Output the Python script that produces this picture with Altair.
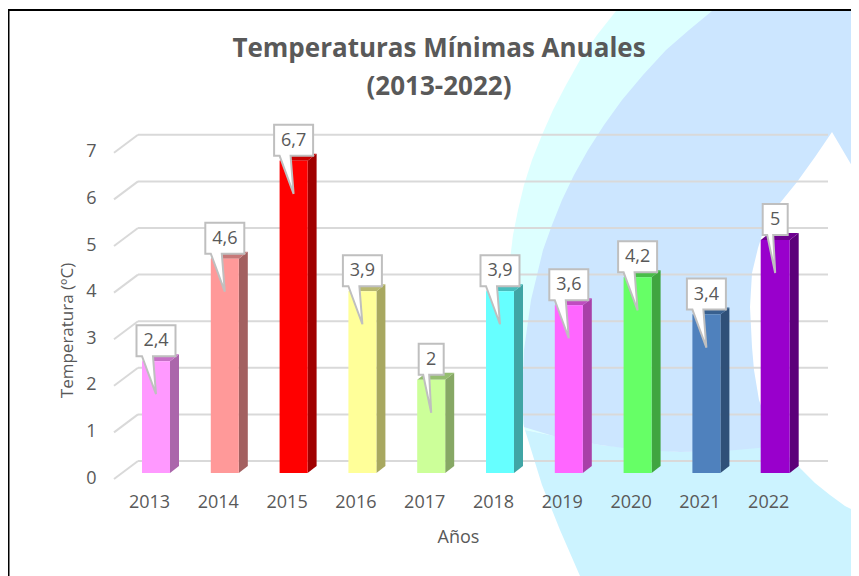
import altair as alt
import pandas as pd

# ---------- data ----------
years = [2013, 2014, 2015, 2016, 2017, 2018, 2019, 2020, 2021, 2022]
values = [2.4, 4.6, 6.7, 3.9, 2.0, 3.9, 3.6, 4.2, 3.4, 5.0]
value_labels = ["2,4", "4,6", "6,7", "3,9", "2", "3,9", "3,6", "4,2", "3,4", "5"]
front_colors = ["#FF99FF", "#FF9999", "#FF0000", "#FFFF99", "#CCFF99",
                "#66FFFF", "#FF66FF", "#66FF66", "#4F81BD", "#9900CC"]
top_colors = ["#C670C6", "#C67878", "#C80000", "#B8B870", "#95BD70",
              "#48BDBD", "#C04CC0", "#48BD48", "#38608F", "#6E0090"]
side_colors = ["#AB66AB", "#A36060", "#A00000", "#A8A860", "#87A865",
               "#40A5A5", "#A840A8", "#40A540", "#2F5078", "#5C007A"]
ticks_y = [0, 1, 2, 3, 4, 5, 6, 7]

# decorative background outlines, picture coordinates
ring_outline = [(616, 11), (597, 35), (580, 60), (566, 85), (553, 110), (542, 135), (532, 160), (524, 185),
                (518, 210), (513, 235), (510, 260), (506, 300), (505, 340), (511, 385), (525, 430),
                (600, 445), (859, 445), (859, 11)]
lower_outline = [(525, 430), (542, 485), (560, 530), (580, 576), (859, 576), (859, 440),
                 (770, 447), (680, 452), (600, 445)]
blue_outline = [(712, 11), (689, 30), (666, 50), (643, 75), (622, 100), (604, 125), (588, 150), (574, 175),
                (562, 200), (552, 225), (543, 250), (537, 275), (531, 300), (524, 350), (522, 400), (524, 427),
                (560, 438), (600, 445), (640, 450), (680, 452), (725, 451), (770, 447), (859, 440), (859, 11)]
white_outline = [(832, 132), (859, 178), (859, 513), (845, 506), (830, 495), (815, 483), (802, 470), (790, 458),
                 (780, 447), (768, 425), (759, 400), (754, 370), (752, 347), (750, 307), (752, 273), (758, 248),
                 (766, 223), (780, 203), (797, 182), (815, 157)]

# ---------- layout constants ----------
W, H = 843, 568
UNIT_X, UNIT_Y = 68.8, 46.6
X0, Y0 = 156, 473
FONT = "Open Sans"
TXT = "#595959"
GRID = "#D9D9D9"


def year_of(px):
    return 2013 + (px - X0) / UNIT_X


def temp_of(py):
    return (Y0 - py) / UNIT_Y


x_scale = alt.Scale(domain=[year_of(8), year_of(8 + W)], range=[0, W], nice=False, zero=False)
y_scale = alt.Scale(domain=[temp_of(8 + H), temp_of(8)], range=[H, 0], nice=False, zero=False)
x_axis = alt.Axis(values=years, format="d", domain=False, ticks=False, grid=False, title="Años",
                  offset=-(H + 8 - 490), labelOffset=-7, labelPadding=3, labelFont=FONT, labelFontSize=18,
                  labelColor=TXT, labelFlush=False, labelOverlap=False,
                  titleFont=FONT, titleFontSize=18, titleColor=TXT, titleFontWeight="normal",
                  titleX=450, titleY=47, titleBaseline="middle", zindex=1)
y_axis = alt.Axis(values=ticks_y, format="d", domain=False, ticks=False, grid=False, title="Temperatura (ºC)",
                  offset=-88, labelOffset=5, labelPadding=0, labelFont=FONT, labelFontSize=18,
                  labelColor=TXT, labelFlush=False, labelOverlap=False,
                  titleFont=FONT, titleFontSize=17, titleColor=TXT, titleFontWeight="normal",
                  titleX=-29, titleY=322, titleAngle=270, titleBaseline="middle", zindex=1)
X = alt.X("x:Q", scale=x_scale, axis=x_axis)
Y = alt.Y("y:Q", scale=y_scale, axis=y_axis)


def poly(points, fill, stroke=None, sw=0.0):
    df = pd.DataFrame({"x": [year_of(p[0]) for p in points],
                       "y": [temp_of(p[1]) for p in points],
                       "i": list(range(len(points)))})
    return alt.Chart(df).mark_line(
        interpolate="linear-closed", fill=fill, stroke=stroke or fill,
        strokeWidth=sw, strokeJoin="miter"
    ).encode(x=X, y=Y, order=alt.Order("i:Q"))


layers = [poly(ring_outline, "#DDFFFF"), poly(lower_outline, "#CCF3FF"),
          poly(blue_outline, "#CCE6FF"), poly(white_outline, "#FFFFFF")]

# gridlines
back_dy = (Y0 - 461) / UNIT_Y
grid_df = pd.DataFrame({"t": ticks_y})
grid_df["x"] = year_of(138)
grid_df["x2"] = year_of(828)
grid_df["y"] = grid_df["t"] + back_dy
layers.append(alt.Chart(grid_df).mark_rule(color=GRID, strokeWidth=2).encode(x=X, x2="x2:Q", y=Y))
slant = pd.DataFrame({"t": ticks_y})
slant["x"] = year_of(114)
slant["x2"] = year_of(138)
slant["y"] = slant["t"] + back_dy - 18 / UNIT_Y
slant["y2"] = slant["t"] + back_dy
layers.append(alt.Chart(slant).mark_rule(color=GRID, strokeWidth=2).encode(x=X, x2="x2:Q", y=Y, y2="y2:Q"))

# bars: side and top faces, then the front
for i, (yr, v) in enumerate(zip(years, values)):
    cx = X0 + (yr - 2013) * UNIT_X
    half = 14.5 if yr == 2022 else 14
    xl, xr = cx - half, cx + half
    yt = Y0 - v * UNIT_Y
    d_x, d_y = 9, 7
    layers.append(poly([(xr, yt), (xr + d_x, yt - d_y), (xr + d_x, Y0 - d_y), (xr, Y0)], side_colors[i]))
    layers.append(poly([(xl, yt), (xl + d_x, yt - d_y), (xr + d_x, yt - d_y), (xr, yt)], top_colors[i]))
    layers.append(poly([(xl, Y0), (xl, yt), (xr, yt), (xr, Y0)], front_colors[i]))

# callouts
for i, (yr, v, lab) in enumerate(zip(years, values, value_labels)):
    cx = X0 + (yr - 2013) * UNIT_X
    yt = Y0 - v * UNIT_Y
    hw = 19.5 if len(lab) > 1 else 12.5
    bot, top = yt - 5, yt - 36
    bl, br = (cx - 14, cx - 3) if len(lab) > 1 else (cx - 8, cx - 2)
    layers.append(poly([(cx - hw, top), (cx + hw, top), (cx + hw, bot), (br, bot),
                        (cx, yt + 33), (bl, bot), (cx - hw, bot)],
                       "#FFFFFF", "#BFBFBF", 2))
    t_df = pd.DataFrame({"x": [year_of(cx)], "y": [temp_of((top + bot) / 2 + 0.5)], "t": [lab]})
    layers.append(alt.Chart(t_df).mark_text(font=FONT, fontSize=18, color=TXT, baseline="middle",
                                            align="center").encode(x=X, y=Y, text="t:N"))

# title
title_lines = ["Temperaturas Mínimas Anuales", "(2013-2022)"]
title_df = pd.DataFrame({"t": title_lines, "x": [year_of(439)] * 2, "y": [temp_of(48.5), temp_of(86.5)]})
layers.append(alt.Chart(title_df).mark_text(font=FONT, fontSize=26, fontWeight="bold", color=TXT,
                                            baseline="middle", align="center").encode(x=X, y=Y, text="t:N"))

# frame
frame_h = pd.DataFrame({"x": [year_of(8)], "x2": [year_of(8 + W)], "y": [temp_of(10)]})
frame_v = pd.DataFrame({"x": [year_of(8.7)], "y": [temp_of(9)], "y2": [temp_of(8 + H)]})
layers.append(alt.Chart(frame_h).mark_rule(color="#000000", strokeWidth=2).encode(x=X, x2="x2:Q", y=Y))
layers.append(alt.Chart(frame_v).mark_rule(color="#000000", strokeWidth=1.6).encode(x=X, y=Y, y2="y2:Q"))

chart = alt.layer(*layers).properties(
    width=W, height=H, padding=0, background="#FFFFFF",
    autosize=alt.AutoSizeParams(type="none")
).configure_view(stroke=None)

chart.save("out.html", embed_options={"renderer": "svg", "actions": False})
